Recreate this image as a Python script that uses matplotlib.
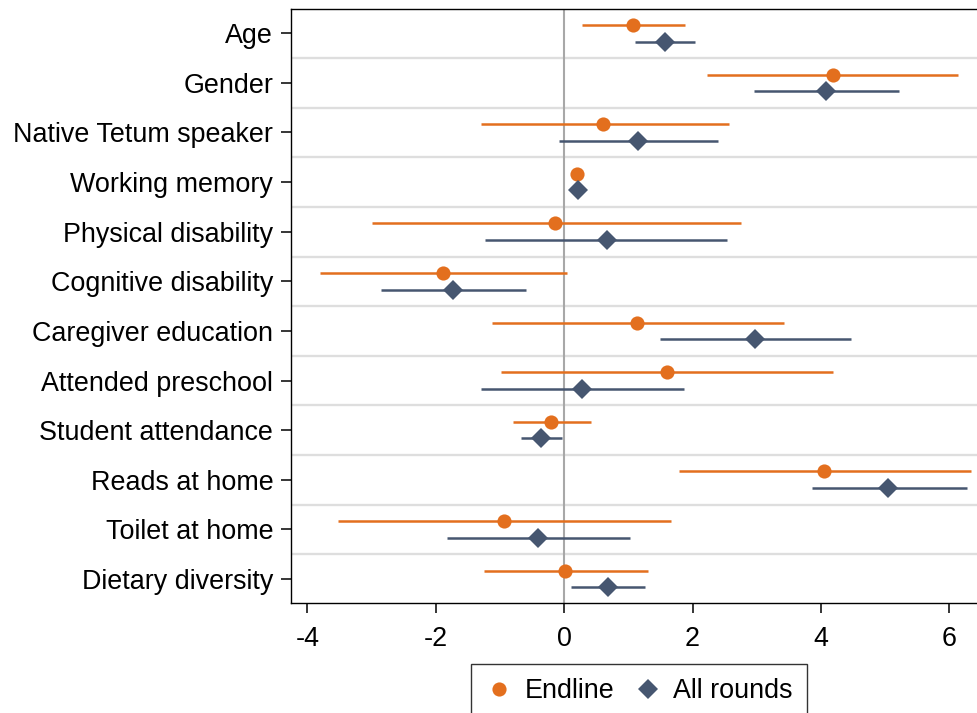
"""Coefficient plot: Endline vs All rounds estimates with 95% CIs."""

import matplotlib
matplotlib.use("Agg")
import matplotlib.pyplot as plt
from matplotlib.lines import Line2D

plt.rcParams["font.family"] = ["Liberation Sans", "DejaVu Sans"]

CATEGORIES = [
    "Age", "Gender", "Native Tetum speaker", "Working memory",
    "Physical disability", "Cognitive disability", "Caregiver education",
    "Attended preschool", "Student attendance", "Reads at home",
    "Toilet at home", "Dietary diversity",
]

# Endline estimates and CI bounds
END_EST = [1.07, 4.18, 0.61, 0.20, -0.14, -1.88, 1.14, 1.60, -0.21, 4.04, -0.93, 0.02]
END_LO = [0.27, 2.23, -1.30, 0.17, -3.00, -3.81, -1.13, -0.98, -0.80, 1.79, -3.52, -1.25]
END_HI = [1.88, 6.14, 2.56, 0.23, 2.75, 0.04, 3.43, 4.18, 0.42, 6.33, 1.67, 1.31]

# All rounds estimates and CI bounds
ALL_EST = [1.57, 4.08, 1.15, 0.21, 0.66, -1.73, 2.98, 0.27, -0.36, 5.05, -0.40, 0.68]
ALL_LO = [1.11, 2.96, -0.08, 0.18, -1.24, -2.85, 1.50, -1.30, -0.67, 3.86, -1.83, 0.11]
ALL_HI = [2.04, 5.22, 2.39, 0.24, 2.53, -0.60, 4.47, 1.86, -0.03, 6.27, 1.03, 1.26]

XTICKS = [-4, -2, 0, 2, 4, 6]

ORANGE = "#E36F1E"
NAVY = "#465670"
OFFSET = 0.167
FONT = 19.4


def main() -> None:
    fig = plt.figure(figsize=(9.77, 7.13), dpi=100)
    ax = fig.add_axes([0.2975, 0.1543, 0.7025, 0.8327])

    rows = list(range(len(CATEGORIES)))
    y_end = [r - OFFSET for r in rows]
    y_all = [r + OFFSET for r in rows]

    # separators between categories
    for r in rows[:-1]:
        ax.axhline(r + 0.5, color="#DEDEDE", lw=1.7, zorder=1)
    ax.axvline(0, color="#A8A8A8", lw=1.5, zorder=2)

    ax.hlines(y_end, END_LO, END_HI, color=ORANGE, lw=1.8, zorder=3)
    ax.hlines(y_all, ALL_LO, ALL_HI, color=NAVY, lw=1.8, zorder=3)
    ax.plot(END_EST, y_end, "o", color=ORANGE, ms=10.2, mew=0, zorder=4)
    ax.plot(ALL_EST, y_all, "D", color=NAVY, ms=9.7, mew=0, zorder=4)

    ax.set_xlim(-4.26, 6.43)
    ax.set_ylim(11.484, -0.484)
    ax.set_yticks(rows)
    ax.set_yticklabels(CATEGORIES)
    ax.set_xticks(XTICKS)
    ax.set_xticklabels([str(t) for t in XTICKS])
    ax.tick_params(axis="both", labelsize=FONT, length=7.5, width=1.1,
                   color="black", labelcolor="black")
    ax.tick_params(axis="y", pad=5)
    ax.tick_params(axis="x", pad=9)

    for side in ("left", "top", "bottom"):
        ax.spines[side].set_linewidth(1.0)
        ax.spines[side].set_color("black")
    ax.spines["right"].set_visible(False)

    handles = [
        Line2D([], [], ls="none", marker="o", color=ORANGE, ms=10.2, mew=0),
        Line2D([], [], ls="none", marker="D", color=NAVY, ms=9.7, mew=0),
    ]
    leg = fig.legend(handles, ["Endline", "All rounds"], loc="upper center",
                     bbox_to_anchor=(639 / 977, 1 - 664 / 713), ncol=2,
                     fontsize=FONT, frameon=True, fancybox=False,
                     borderaxespad=0, handlelength=1.0, handletextpad=0.45,
                     columnspacing=0.75, borderpad=0.52)
    leg.get_frame().set_edgecolor("black")
    leg.get_frame().set_linewidth(1.0)

    fig.savefig("out.png", dpi=100)
    plt.close(fig)


if __name__ == "__main__":
    main()
